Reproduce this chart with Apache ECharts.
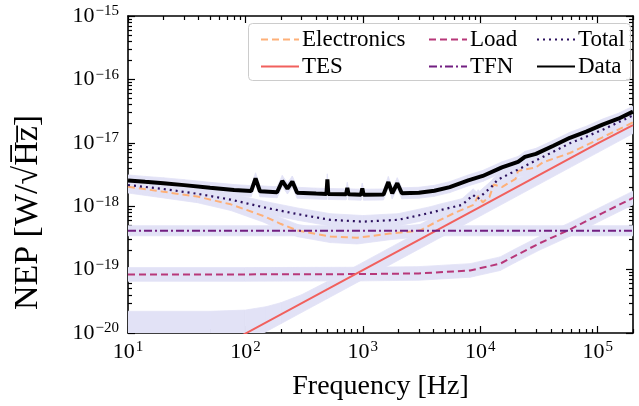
<!DOCTYPE html>
<html>
<head>
<meta charset="utf-8">
<script src="https://cdn.jsdelivr.net/npm/echarts@6/dist/echarts.min.js"></script>
<style>
  html, body { margin: 0; padding: 0; background: #fff; }
  #chart { width: 639px; height: 406px; }
</style>
</head>
<body>
<div id="chart"></div>
<script>
// ---- data ----
const elecFreq = [10, 20, 39, 75, 143, 199, 278, 527, 895, 1700, 3070, 4070, 6000, 8800, 9600, 10500, 12000, 13000, 15300, 20000, 21000, 29800, 34000, 58000, 110000, 200000]
const elecNep = [2.02e-18, 1.69e-18, 1.42e-18, 1.07e-18, 7.0e-19, 5.28e-19, 4.13e-19, 3.34e-19, 3.17e-19, 3.7e-19, 4.13e-19, 5.47e-19, 7.8e-19, 1.05e-18, 1.45e-18, 1.15e-18, 1.4e-18, 2.2e-18, 2.0e-18, 2.7e-18, 3.6e-18, 4.1e-18, 4.9e-18, 6.9e-18, 1.22e-17, 2.1e-17]

const loadFreq = [10, 100, 1000, 3000, 8200, 14800, 19800, 32000, 58000, 110000, 200000]
const loadNep = [8.4e-20, 8.4e-20, 8.5e-20, 8.7e-20, 9.7e-20, 1.24e-19, 1.65e-19, 2.6e-19, 4.3e-19, 7.8e-19, 1.35e-18]

const totalFreq = [10, 20, 39, 75, 143, 278, 527, 1000, 2000, 3700, 4600, 7000, 8700, 9500, 12400, 14000, 18700, 30000, 58000, 110000, 200000]
const totalNep = [2.16e-18, 1.87e-18, 1.57e-18, 1.27e-18, 9.6e-19, 7.5e-19, 6.1e-19, 5.7e-19, 6.1e-19, 7.8e-19, 8.7e-19, 1.05e-18, 1.5e-18, 1.3e-18, 2.0e-18, 2.6e-18, 3.4e-18, 5.3e-18, 9.8e-18, 1.6e-17, 2.7e-17]

const tesFreq = [10, 100, 1000, 10000, 100000, 200000]
const tesNep = [9.8e-22, 9.8e-21, 9.8e-20, 9.8e-19, 9.8e-18, 1.9e-17]

const tfnFreq = [10, 200000]
const tfnNep = [4.1e-19, 4.1e-19]

const dataFreq = [10, 14, 20, 30, 50, 80, 112, 122, 133, 186, 206, 228, 251, 276, 400, 490, 499, 508, 720, 738, 756, 965, 990, 1015, 1500, 1650, 1780, 1966, 2150, 3000, 4070, 5500, 7900, 10500, 15300, 21000, 24000, 29800, 42000, 58000, 80000, 110000, 150000, 200000]
const dataNep = [2.55e-18, 2.42e-18, 2.3e-18, 2.15e-18, 1.95e-18, 1.8e-18, 1.73e-18, 2.75e-18, 1.72e-18, 1.66e-18, 2.5e-18, 1.9e-18, 2.45e-18, 1.63e-18, 1.58e-18, 1.56e-18, 2.65e-18, 1.56e-18, 1.54e-18, 1.95e-18, 1.54e-18, 1.52e-18, 1.9e-18, 1.52e-18, 1.53e-18, 2.4e-18, 1.6e-18, 2.3e-18, 1.6e-18, 1.63e-18, 1.75e-18, 2.0e-18, 2.55e-18, 3.0e-18, 4.1e-18, 5.0e-18, 6.0e-18, 6.7e-18, 9.0e-18, 1.2e-17, 1.5e-17, 1.94e-17, 2.4e-17, 3.1e-17]

// uncertainty bands (relative spread read from the shaded halos)
const dataSpread = 1.22
const totalSpread = 1.25
const elecSpread = 1.25
const tfnSpread = 1.2
const loadSpread = 1.28
const tesBandFreq = [10, 50, 100, 150, 200, 300, 500, 1000, 10000, 100000, 200000]
const tesBandLo = [7e-22, 3.5e-21, 7e-21, 1.05e-20, 1.4e-20, 2.1e-20, 3.5e-20, 7e-20, 7e-19, 7e-18, 1.4e-17]
const tesBandHi = [2.2e-20, 2.2e-20, 2.3e-20, 2.6e-20, 3.0e-20, 4.0e-20, 6.5e-20, 1.3e-19, 1.3e-18, 1.3e-17, 2.6e-17]

const xMajor = [10, 100, 1000, 10000, 100000]
const yMajor = [1e-20, 1e-19, 1e-18, 1e-17, 1e-16, 1e-15]
const xMinor = []
for (let e = 1; e <= 5; e++) for (let m = 2; m <= 9; m++) if (m * Math.pow(10, e) <= 200000) xMinor.push(m * Math.pow(10, e))
const yMinor = []
for (let e = -20; e <= -16; e++) for (let m = 2; m <= 9; m++) yMinor.push(m * Math.pow(10, e))

const serif = 'Liberation Serif'
const bandColor = '#e2e2f6'

function zip (xs, ys) { return xs.map((x, i) => [x, ys[i]]) }

function bandSeries (pts) {
  return {
    type: 'custom',
    coordinateSystem: 'cartesian2d',
    clip: true,
    silent: true,
    z: 1,
    encode: { x: 0, y: [1, 2] },
    data: pts,
    renderItem (params, api) {
      const i = params.dataIndex
      if (i >= pts.length - 1) return null
      const a = pts[i]
      const b = pts[i + 1]
      return {
        type: 'polygon',
        shape: {
          points: [api.coord([a[0], a[2]]), api.coord([b[0], b[2]]), api.coord([b[0], b[1]]), api.coord([a[0], a[1]])]
        },
        style: { fill: bandColor, stroke: bandColor, lineWidth: 0.8 }
      }
    }
  }
}
function spreadBand (xs, ys, k) { return xs.map((x, i) => [x, ys[i] / k, ys[i] * k]) }

function powLabel (v) {
  const e = Math.round(Math.log10(v))
  return '{b|10}{s|' + String(e).replace('-', '\u2212') + '}'
}
const labelRich = {
  b: { fontFamily: serif, fontSize: 22, color: '#000', lineHeight: 24 },
  s: { fontFamily: serif, fontSize: 15, color: '#000', lineHeight: 16, verticalAlign: 'top', padding: [0, 0, 0, 1] }
}

function logX (opt) {
  return Object.assign({
    type: 'log', min: 10, max: 200000, logBase: 10,
    splitLine: { show: false },
    axisLine: { show: false },
    axisTick: { show: false },
    axisLabel: { show: false }
  }, opt)
}
function logY (opt) {
  return Object.assign({
    type: 'log', min: 1e-20, max: 1e-15, logBase: 10,
    splitLine: { show: false },
    axisLine: { show: false },
    axisTick: { show: false },
    axisLabel: { show: false }
  }, opt)
}
const spine = { show: true, onZero: false, lineStyle: { color: '#000', width: 1.6 } }
const tickStyle = { color: '#000', width: 1.2 }
const legendBase = {
  top: 23, orient: 'vertical', itemWidth: 38, itemHeight: 12, itemGap: 4, z: 20,
  itemStyle: { opacity: 0 },
  textStyle: { fontFamily: serif, fontSize: 23, color: '#000', padding: [0, 0, 0, -2] }
}

const myChart = echarts.init(document.getElementById('chart'))
myChart.setOption({
  animation: false,
  grid: { left: 128, right: 6, top: 16, bottom: 63 },
  xAxis: [
    logX({
      position: 'bottom',
      axisLine: spine,
      axisTick: { show: true, inside: true, length: 7, lineStyle: tickStyle, customValues: xMajor },
      axisLabel: { show: true, margin: 7, customValues: xMajor, formatter: powLabel, rich: labelRich },
      name: 'Frequency [Hz]',
      nameLocation: 'middle',
      nameGap: 40,
      nameTextStyle: { fontFamily: serif, fontSize: 28, color: '#000' }
    }),
    logX({ position: 'bottom', axisTick: { show: true, inside: true, length: 4, lineStyle: tickStyle, customValues: xMinor } }),
    logX({ position: 'top', axisLine: spine, axisTick: { show: true, inside: true, length: 7, lineStyle: tickStyle, customValues: xMajor } }),
    logX({ position: 'top', axisTick: { show: true, inside: true, length: 4, lineStyle: tickStyle, customValues: xMinor } })
  ],
  yAxis: [
    logY({
      position: 'left',
      axisLine: spine,
      axisTick: { show: true, inside: true, length: 7, lineStyle: tickStyle, customValues: yMajor },
      axisLabel: { show: true, margin: 9, customValues: yMajor, formatter: powLabel, rich: labelRich },
      name: 'NEP [W/\u221AH\u0305z\u0305]',
      nameLocation: 'middle',
      nameGap: 83,
      nameRotate: 90,
      nameTextStyle: { fontFamily: serif, fontSize: 34, color: '#000', padding: [0, 76, 0, 0] }
    }),
    logY({ position: 'left', axisTick: { show: true, inside: true, length: 4, lineStyle: tickStyle, customValues: yMinor } }),
    logY({ position: 'right', axisLine: spine, axisTick: { show: true, inside: true, length: 7, lineStyle: tickStyle, customValues: yMajor } }),
    logY({ position: 'right', axisTick: { show: true, inside: true, length: 4, lineStyle: tickStyle, customValues: yMinor } })
  ],
  legend: [
    Object.assign({ left: 255, data: ['Electronics', 'TES'] }, legendBase),
    Object.assign({ left: 423, data: ['Load', 'TFN'] }, legendBase),
    Object.assign({ left: 531, data: ['Total', 'Data'] }, legendBase)
  ],
  graphic: [
    { type: 'rect', left: 248, top: 23, z: 10, shape: { width: 382, height: 57, r: 4 },
      style: { fill: 'rgba(255,255,255,0.85)', stroke: '#cccccc', lineWidth: 1 } }
  ],
  series: [
    bandSeries(tesBandFreq.map((f, i) => [f, tesBandLo[i], tesBandHi[i]])),
    bandSeries(spreadBand(loadFreq, loadNep, loadSpread)),
    bandSeries(spreadBand(tfnFreq, tfnNep, tfnSpread)),
    bandSeries(spreadBand(elecFreq, elecNep, elecSpread)),
    bandSeries(spreadBand(totalFreq, totalNep, totalSpread)),
    bandSeries(spreadBand(dataFreq, dataNep, dataSpread)),
    { name: 'Electronics', type: 'line', showSymbol: false, symbol: 'none', z: 3,
      lineStyle: { color: '#feb078', width: 2, type: [7, 4] }, itemStyle: { color: '#feb078' }, data: zip(elecFreq, elecNep) },
    { name: 'Load', type: 'line', showSymbol: false, symbol: 'none', z: 3,
      lineStyle: { color: '#b73779', width: 2, type: [7, 4] }, itemStyle: { color: '#b73779' }, data: zip(loadFreq, loadNep) },
    { name: 'TES', type: 'line', showSymbol: false, symbol: 'none', z: 3,
      lineStyle: { color: '#f1605d', width: 2 }, itemStyle: { color: '#f1605d' }, data: zip(tesFreq, tesNep) },
    { name: 'TFN', type: 'line', showSymbol: false, symbol: 'none', z: 3,
      lineStyle: { color: '#721f81', width: 2, type: [8, 3, 2, 3] }, itemStyle: { color: '#721f81' }, data: zip(tfnFreq, tfnNep) },
    { name: 'Total', type: 'line', showSymbol: false, symbol: 'none', z: 4,
      lineStyle: { color: '#2c115f', width: 2.2, type: [2, 4] }, itemStyle: { color: '#2c115f' }, data: zip(totalFreq, totalNep) },
    { name: 'Data', type: 'line', showSymbol: false, symbol: 'none', z: 5,
      lineStyle: { color: '#000', width: 4 }, itemStyle: { color: '#000' }, data: zip(dataFreq, dataNep) }
  ]
})
</script>
</body>
</html>
